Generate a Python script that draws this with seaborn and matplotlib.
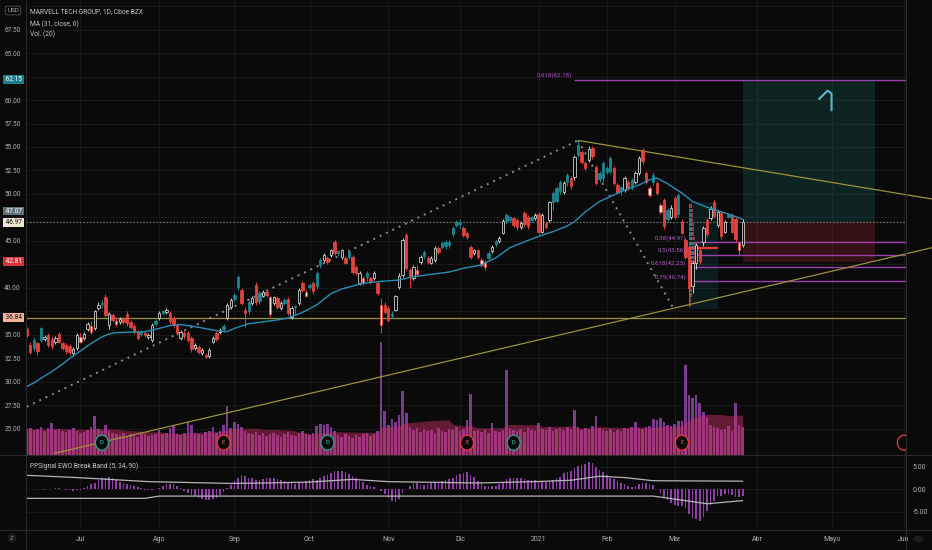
import numpy as np
import pandas as pd
import matplotlib
matplotlib.use("Agg")
import matplotlib.pyplot as plt
from matplotlib.patches import Rectangle, Ellipse, Circle
from matplotlib.lines import Line2D
import seaborn as sns

# ---------------- data ----------------
opens = [35.6,33.9,34.5,34.1,35.7,34.6,35.0,34.6,34.2,35.1,
 34.1,33.9,33.8,33.1,33.6,34.3,34.7,35.6,35.3,35.7,
 37.9,38.4,39.0,36.1,37.1,36.2,36.4,36.7,37.2,36.4,
 36.0,35.3,35.3,35.2,34.8,34.5,36.5,36.8,37.5,37.4,
 37.3,36.8,36.1,34.7,35.2,35.2,34.7,33.6,33.7,33.1,
 32.9,32.8,34.3,35.2,35.3,36.0,36.8,38.0,39.3,41.2,
 39.8,37.7,38.5,38.4,40.3,39.5,39.2,39.6,37.2,38.4,
 38.9,37.9,38.7,38.8,36.9,38.0,38.4,40.5,39.2,40.3,
 40.5,41.6,43.0,43.0,43.2,43.5,44.9,43.9,43.3,43.2,
 43.8,43.3,42.2,40.5,40.5,41.6,41.1,41.1,40.5,36.1,
 38.2,37.9,37.25,37.7,40.1,41.4,45.6,41.9,41.1,41.5,
 42.8,43.8,43.2,42.7,43.0,44.3,44.8,44.9,44.9,46.4,
 47.0,47.0,46.4,45.9,44.4,43.7,44.0,42.4,42.2,43.7,
 43.9,44.95,45.0,45.9,47.8,47.5,47.4,47.2,46.5,48.0,
 47.6,47.5,47.4,47.9,46.0,46.9,47.2,50.1,50.6,51.3,
 50.2,52.0,51.7,51.8,55.2,54.5,53.3,53.6,54.9,52.9,
 52.2,53.3,52.8,53.8,52.8,51.0,50.7,50.4,51.3,51.5,
 51.3,52.2,54.7,52.2,49.9,52.0,51.2,48.1,49.4,48.3,
 47.5,49.6,49.9,47.0,45.1,44.4,40.2,42.7,44.0,44.9,
 47.2,47.4,49.1,46.7,48.0,46.0,47.85,47.8,47.3,44.0,
 44.6]
highs = [35.9,34.2,34.8,34.3,35.9,35.0,35.2,34.9,34.9,35.3,
 34.3,34.1,34.0,33.7,35.2,35.2,35.3,36.4,36.5,37.7,
 38.5,38.7,39.4,37.4,37.3,36.8,36.9,36.9,37.5,36.6,
 36.2,35.5,35.5,35.4,35.2,36.3,36.7,37.5,37.7,37.9,
 37.5,37.0,36.3,35.5,35.4,35.4,34.9,34.1,33.9,33.6,
 33.1,33.6,34.9,35.4,35.7,36.2,38.4,38.9,39.5,41.4,
 40.0,38.0,38.8,39.1,40.6,39.7,39.8,39.8,39.2,39.2,
 39.1,38.6,38.9,39.0,38.1,38.2,40.0,40.7,39.8,40.5,
 40.7,41.8,43.2,43.7,43.4,44.2,45.1,44.0,44.2,43.4,
 44.0,43.5,42.4,41.8,41.3,41.8,41.3,41.8,40.7,38.9,
 38.5,38.1,37.5,39.3,41.6,45.3,45.9,42.1,42.4,42.4,
 43.5,44.0,43.4,43.4,44.5,44.5,45.0,45.1,45.1,46.6,
 47.2,47.3,46.6,46.1,44.6,44.2,44.2,43.2,43.0,43.9,
 44.6,45.1,45.5,47.3,48.0,47.7,47.6,47.4,47.1,48.2,
 47.8,47.7,48.0,48.1,48.0,47.1,49.3,50.3,50.8,51.5,
 51.4,52.2,51.9,54.1,55.7,54.7,53.5,55.1,55.1,53.1,
 52.4,53.5,53.0,54.0,53.0,51.2,50.9,51.9,51.5,51.7,
 52.4,54.0,54.9,52.4,50.8,52.3,51.4,49.0,49.6,48.5,
 48.8,49.8,50.1,47.3,45.3,44.6,42.9,44.8,44.4,46.6,
 47.4,48.7,49.4,48.3,48.2,47.2,48.0,48.0,47.5,45.0,
 47.3]
lows = [34.8,33.0,33.3,32.9,34.2,34.4,33.7,33.5,34.0,34.1,
 33.4,33.0,32.9,32.8,33.4,34.1,34.5,35.4,35.1,35.5,
 37.7,37.9,36.9,35.6,36.4,36.0,36.2,36.2,36.0,35.6,
 35.1,34.5,34.9,34.8,34.6,34.3,36.0,36.6,37.1,37.2,
 36.2,35.9,35.0,34.5,34.6,34.3,33.2,33.4,33.0,32.9,
 32.5,32.6,34.1,34.4,35.1,35.3,36.6,37.8,38.5,39.8,
 38.2,35.8,37.2,38.2,38.2,38.3,39.0,39.0,36.9,38.2,
 37.8,37.7,38.2,37.1,36.7,37.2,38.2,39.6,39.0,39.9,
 39.4,39.9,42.1,42.8,42.5,43.3,43.5,43.4,43.1,42.5,
 43.1,41.5,41.4,40.3,40.3,40.7,40.4,40.9,39.3,35.2,
 37.2,36.4,36.8,37.5,39.9,41.2,41.9,40.0,40.9,41.3,
 42.6,43.1,42.6,42.5,42.8,43.6,44.2,44.1,44.3,45.4,
 46.5,46.3,45.4,45.2,43.1,43.5,43.1,42.2,41.9,43.0,
 43.7,44.4,44.8,45.7,46.8,47.0,46.5,46.2,46.3,46.5,
 46.3,47.0,47.2,45.7,45.8,46.3,47.0,48.3,49.0,50.0,
 50.0,50.8,50.5,51.5,53.9,53.2,52.6,53.4,53.7,51.0,
 51.3,51.3,52.1,52.1,51.0,50.0,49.9,50.2,50.4,50.4,
 51.1,52.0,53.2,51.1,49.7,51.0,49.9,47.9,46.3,47.0,
 47.3,47.3,47.6,45.7,43.1,38.0,39.5,42.0,42.6,44.5,
 45.4,47.2,47.4,46.5,45.2,45.8,47.4,45.8,44.9,43.5,
 44.4]
closes = [35.0,33.2,33.6,33.3,34.5,34.8,33.9,33.8,34.7,34.3,
 33.6,33.3,33.2,33.5,35.0,34.8,35.1,36.2,36.0,37.5,
 38.2,38.25,37.1,37.2,36.6,36.5,36.7,36.4,36.3,35.8,
 35.3,34.7,35.1,34.95,35.0,36.1,36.2,37.3,37.35,37.7,
 36.5,36.1,35.2,35.3,34.9,34.5,33.5,33.9,33.2,33.4,
 32.7,33.4,34.7,34.6,35.5,35.6,38.2,38.7,38.8,40.1,
 38.4,37.3,37.5,38.9,38.5,38.6,39.6,39.3,39.0,39.0,
 38.0,38.4,38.45,37.3,37.9,37.95,39.8,39.75,39.6,40.1,
 39.7,40.2,42.4,43.5,42.8,44.0,43.7,43.75,44.0,42.7,
 43.3,41.7,41.6,41.6,41.1,41.2,40.6,41.6,39.5,38.2,
 37.4,36.6,37.0,39.1,41.3,45.1,42.1,41.2,42.2,41.9,
 43.3,43.35,42.8,43.2,44.3,43.8,44.4,44.45,44.6,45.7,
 46.75,46.8,45.6,45.4,43.3,44.0,43.3,43.0,42.8,43.2,
 44.4,44.65,45.3,47.1,47.1,47.25,46.7,46.5,46.9,46.8,
 46.6,47.2,47.8,46.0,47.8,46.5,49.1,49.2,49.3,50.3,
 51.2,51.3,50.8,53.9,54.1,53.4,52.8,54.8,54.0,51.2,
 51.6,51.7,52.3,52.4,51.2,50.2,50.3,51.7,50.6,50.7,
 52.2,53.8,53.5,51.3,50.6,51.3,50.1,48.8,46.6,47.3,
 48.5,47.6,47.9,45.9,43.3,40.0,42.7,44.6,42.9,46.4,
 45.7,48.4,47.7,48.1,45.5,47.0,47.6,46.0,45.2,44.8,
 47.07]
volume = [26,27,25,26,28,24,27,32,25,26,
 24,23,25,27,24,22,23,25,28,39,
 26,24,30,24,22,21,20,22,19,21,
 20,18,22,21,19,20,21,25,21,22,
 27,29,21,20,22,33,30,22,21,20,
 23,24,28,22,24,30,49,27,33,31,
 28,24,22,21,23,20,22,19,21,22,
 20,18,21,23,20,19,22,24,21,20,
 22,29,31,30,31,28,24,20,18,21,
 19,17,20,18,21,22,19,21,24,113,
 44,30,36,33,40,64,42,28,25,27,
 23,26,24,25,22,27,24,23,26,25,
 28,24,26,35,61,24,25,23,26,22,
 32,24,23,25,85,27,25,24,26,23,
 27,25,24,32,26,25,28,24,26,27,
 25,28,26,45,28,25,27,26,29,39,
 27,25,24,26,23,25,24,27,26,28,
 33,27,26,28,29,36,35,37,33,30,
 29,31,34,34,90,60,57,60,52,43,
 38,30,28,27,25,26,29,24,52,30,
 28]

# MA(31) line (bar index, price)
ma_idx = [0,2,4,7,10,12,15,18,21,23,25,29,33,37,40,43,46,51,54,56,58,62,66,70,73,
          77,81,85,88,90,94,99,104,108,113,118,122,127,131,135,139,143,147,151,153,
          156,160,164,167,171,174,176,179,183,186,190,194,198,200]
ma_val = [29.5,29.9,30.4,31.1,31.9,32.5,33.3,34.1,34.8,35.1,35.25,35.3,35.35,35.7,36.0,
          36.1,35.95,35.6,35.4,35.35,35.7,36.2,36.4,36.6,36.8,37.4,38.2,39.4,39.9,40.1,
          40.5,40.7,40.85,41.2,41.45,41.7,42.1,42.45,43.2,44.3,44.9,45.5,46.0,46.6,47.05,
          48.1,49.2,49.9,50.4,50.95,51.5,51.7,51.1,50.1,49.2,48.6,48.1,47.6,47.3]

# EWO break bands
band_up_idx = [0,14,34,57,67,79,91,101,126,142,152,160,167,175,200]
band_up_val = [3.1,2.6,1.7,1.3,1.4,1.6,2.2,1.7,1.4,1.7,2.0,2.9,2.6,1.9,1.8]
band_lo_idx = [0,33,37,175,184,190,200]
band_lo_val = [-2.0,-2.0,-1.5,-1.5,-2.5,-3.2,-2.5]

first_day = "2020-06-10"
holidays = ["2020-07-03","2020-09-07","2020-11-26","2020-12-25","2021-01-01",
            "2021-01-18","2021-02-15","2021-04-02","2021-05-31"]
month_labels = ["Jul","Ago","Sep","Oct","Nov","Dic","2021","Feb","Mar","Abr","Mayo","Jun"]

dividend_dates = ["2020-07-10","2020-10-08","2020-12-22"]
earnings_dates = ["2020-08-27","2020-12-03","2021-03-03","2021-06-01"]

# drawings
hline_support = 36.84
hline_dotted = 46.97
last_price = 47.07
pos_entry, pos_target, pos_stop = 46.97, 62.15, 42.81
fib_top = (0.618, 62.18)
fib_levels = [(0.38, 44.91), (0.5, 43.56), (0.618, 42.23), (0.75, 40.74)]
trend_up_x, trend_up_y = [154, 253], [55.7, 49.46]          # descending resistance
trend_lo_x, trend_lo_y = [7.7, 253], [22.4, 44.3]           # rising support
dot1_x, dot1_y = [0, 154], [27.37, 55.7]
dot2_x, dot2_y = [154, 180.4], [55.7, 38.0]
profile_levels = [38.25,38.75,39.25,39.75,40.25,40.75,41.25,41.75,42.25,42.75,43.25,
                  43.75,44.25,44.75,45.25,45.75,46.25,46.75,47.25,47.75,48.25,48.75]
profile_up = [1.2,1.5,1.8,1.8,2.1,2.4,2.4,2.7,3.6,3.6,4.2,5.4,6.0,4.2,3.6,3.3,3.0,3.0,2.7,2.4,2.4,1.8]
profile_dn = [0.8,1.0,1.2,1.2,1.4,1.6,1.6,1.8,2.4,2.4,2.8,3.6,4.0,2.8,2.4,2.2,2.0,2.0,1.8,1.6,1.6,1.2]
poc_price = 44.26
brush_x = [221.3, 223.7, 224.8, 224.8]
brush_y = [60.1, 61.0, 60.7, 58.9]

# ---------------- styling ----------------
BG = "#0a0a0a"
GRID = "#1b1b1b"
TXT = "#aeb1b8"
SEP = "#2a2a2a"
OLIVE = "#9a9238"
FIB = "#9d3fae"
FIB_T = "#b35cc6"
MA_C = "#2a8db5"

sns.set_theme(style="dark", rc={"axes.facecolor": BG, "figure.facecolor": BG,
                                "patch.edgecolor": "none"})
plt.rcParams["font.family"] = ["Roboto", "DejaVu Sans"]

W, H = 932, 550
fig = plt.figure(figsize=(W / 100, H / 100), dpi=100)
fig.patch.set_facecolor(BG)


def rect(x0, y0, x1, y1):
    return [x0 / W, 1 - y1 / H, (x1 - x0) / W, (y1 - y0) / H]


ax_vol = fig.add_axes(rect(26, 0, 906, 455))
ax = fig.add_axes(rect(26, 0, 906, 455))
ax.set_facecolor("none")
ax_osc = fig.add_axes(rect(26, 455, 906, 530))

# dates / bar index
days = pd.bdate_range(first_day, "2021-06-30")
days = days[~days.isin(pd.to_datetime(holidays))]
n = len(closes)
x = np.arange(n)
per = pd.Series(days.to_period("M"))
month_pos = np.flatnonzero(per.ne(per.shift()).values)[1:1 + len(month_labels)]


def bar_of(d):
    return int(days.get_loc(pd.Timestamp(d)))


XL = (-0.2, 245.6)
PY = (22.23, 70.64)
VTOP = 455.0

# ---------------- volume pane (behind) ----------------
ax_vol.set_xlim(*XL)
ax_vol.set_ylim(0, VTOP)
lv = np.arange(25, 70.01, 2.5)
ax_vol.set_yticks((lv - PY[0]) / (PY[1] - PY[0]) * VTOP)
ax_vol.set_xticks(month_pos)
ax_vol.grid(True, color=GRID, linewidth=0.6)
ax_vol.tick_params(length=0, labelleft=False, labelbottom=False)
vol = pd.Series(volume, dtype=float)
ax_vol.bar(x, vol, width=0.72, color="#7c3b8e", linewidth=0, zorder=2)
vma = vol.rolling(20, min_periods=1).mean()
ax_vol.fill_between(x, 0, vma, color="#d0306a", alpha=0.45, linewidth=0, zorder=3)

# ---------------- main price pane ----------------
ax.set_xlim(*XL)
ax.set_ylim(*PY)

# long position tool
ax.add_patch(Rectangle((200, pos_entry), 36.9, pos_target - pos_entry,
                       facecolor="#26a69a", alpha=0.17, linewidth=0, zorder=1))
ax.add_patch(Rectangle((200, pos_stop), 36.9, pos_entry - pos_stop,
                       facecolor="#f23645", alpha=0.18, linewidth=0, zorder=1))

# horizontal lines
ax.axhline(hline_support, color=OLIVE, lw=0.9, zorder=2)
ax.axhline(hline_dotted, color="#7a7a7a", lw=0.8, ls=(0, (1.5, 1.5)), zorder=2)

# fib levels
ax.hlines(fib_top[1], 152.8, XL[1], color=FIB, lw=1.0, zorder=2)
ax.text(152.2, fib_top[1] + 0.15, f"{fib_top[0]}({fib_top[1]:.2f})", color=FIB_T,
        fontsize=4.4, ha="right", va="bottom", zorder=9)
for r, p in fib_levels:
    ax.hlines(p, 186.5, XL[1], color=FIB, lw=1.0, zorder=2)
    ax.text(184.2, p + 0.12, f"{r}({p:.2f})", color=FIB_T, fontsize=4.4,
            ha="right", va="bottom", zorder=9)

# volume profile
ax.add_patch(Rectangle((184.9, 37.8), 193.0 - 184.9, 49.2 - 37.8,
                       facecolor="#1e8fa0", alpha=0.13, linewidth=0, zorder=1))
pu = np.array(profile_up) / 3.58
pdn = np.array(profile_dn) / 3.58
ax.barh(profile_levels, pu, left=184.9, height=0.38, color="#2f8fb0", alpha=0.85,
        linewidth=0, edgecolor="none", zorder=2)
ax.barh(profile_levels, pdn, left=184.9 + pu, height=0.38, color="#b7413f", alpha=0.85,
        linewidth=0, edgecolor="none", zorder=2)
ax.hlines(poc_price, 185.5, 193.0, color="#e53935", lw=1.6, zorder=3)

# trend lines and dotted legs
ax.plot(trend_up_x, trend_up_y, color=OLIVE, lw=0.9, zorder=3, clip_on=False)
ax.plot(trend_lo_x, trend_lo_y, color=OLIVE, lw=0.9, zorder=3, clip_on=False)
ax.plot(dot1_x, dot1_y, color="#8c8c8c", lw=1.4, ls=(0, (1, 2.6)), zorder=3)
ax.plot(dot2_x, dot2_y, color="#8c8c8c", lw=1.4, ls=(0, (1, 2.6)), zorder=3)

# candles
o = np.array(opens); h = np.array(highs); l = np.array(lows); c = np.array(closes)
prev = np.r_[o[0], c[:-1]]
up = c >= o
hc = c >= prev
face = np.where(up & hc, BG, np.where(up, "#f3e3d6", np.where(hc, "#1c8391", "#e0433c")))
edge = np.where(up & hc, "#cfcfcf", np.where(up, "#e0483f", np.where(hc, "#1c8391", "#e0433c")))
ax.vlines(x, l, h, colors=edge, lw=0.7, zorder=6)
ax.bar(x, np.maximum(np.abs(c - o), 0.08), bottom=np.minimum(o, c), width=0.66,
       color=face, edgecolor=edge, linewidth=0.6, zorder=7)

# MA line
sns.lineplot(x=ma_idx, y=ma_val, ax=ax, color=MA_C, lw=1.0, zorder=8)

# brush drawing
ax.plot(brush_x, brush_y, color="#5ab8c8", lw=1.5, solid_capstyle="round", zorder=9)

# event markers
ev_y = 23.54
for d in dividend_dates:
    i = bar_of(d)
    ax.add_patch(Ellipse((i, ev_y), 13 / 3.58, 15 / 9.4, facecolor=BG,
                         edgecolor="#26a69a", lw=0.9, zorder=10))
    ax.text(i, ev_y, "D", color="#4fc3c8", fontsize=4.2, ha="center", va="center", zorder=11)
for d in earnings_dates:
    i = bar_of(d)
    ax.add_patch(Ellipse((i, ev_y), 13 / 3.58, 15 / 9.4, facecolor=BG,
                         edgecolor="#f23645", lw=0.9, zorder=10))
    if i < XL[1] - 2:
        ax.text(i, ev_y, "E", color="#f05a64", fontsize=4.2, ha="center", va="center", zorder=11)

# price scale: levels hidden behind coloured labels in the reference are left blank
hidden_levels = {37.5, 42.5, 47.5, 62.5, 70.0}
ax.set_yticks(lv)
ax.set_yticklabels(["" if v in hidden_levels else f"{v:.2f}" for v in lv])
ax.tick_params(axis="y", labelsize=4.7, colors=TXT, length=0, pad=3.6)
ax.set_xticks(month_pos)
ax.tick_params(axis="x", length=0, labelbottom=False)
ax.grid(False)
ax.set_xlabel(""); ax.set_ylabel("")
for a in (ax, ax_vol, ax_osc):
    for s in a.spines.values():
        s.set_visible(False)

# left scale coloured labels
label_rows = [("62.15", pos_target, "#1e7f8f", "white"),
              (f"{last_price:.2f}", 48.19, "#5e7378", "white"),
              ("46.97", hline_dotted, "#efe6d1", "#111111"),
              ("42.81", pos_stop, "#d6343c", "white"),
              ("36.84", hline_support, "#f0b39c", "#111111")]
for txt, yv, fc, tc in label_rows:
    ax.annotate(f" {txt} ", xy=(13.5 / W, yv), xycoords=("figure fraction", "data"),
                ha="center", va="center", fontsize=4.7, color=tc, zorder=12,
                annotation_clip=False,
                bbox=dict(boxstyle="square,pad=0.15", fc=fc, ec="none"))

# ---------------- oscillator pane ----------------
ax_osc.set_facecolor(BG)
cs = pd.Series(closes, dtype=float)
ewo = cs.rolling(5, min_periods=1).mean() - cs.rolling(34, min_periods=1).mean()
ax_osc.bar(x, ewo, width=0.45, color="#8f3fa8", linewidth=0, zorder=2)
sns.lineplot(x=band_up_idx, y=band_up_val, ax=ax_osc, color="#b5b5b5", lw=0.9, zorder=3)
sns.lineplot(x=band_lo_idx, y=band_lo_val, ax=ax_osc, color="#b5b5b5", lw=0.9, zorder=3)
ax_osc.set_xlim(*XL)
ax_osc.set_ylim(-9.0, 7.59)
ax_osc.set_yticks([-5, 0, 5])
ax_osc.set_yticklabels(["-5.00", "0.00", "5.00"])
ax_osc.yaxis.tick_right()
ax_osc.tick_params(axis="y", labelsize=5, colors=TXT, length=0, pad=5)
ax_osc.set_xticks(month_pos)
ax_osc.set_xticklabels(month_labels)
ax_osc.tick_params(axis="x", labelsize=5, colors=TXT, length=0, pad=4.5)
ax_osc.grid(True, color=GRID, linewidth=0.6)
ax_osc.set_xlabel(""); ax_osc.set_ylabel("")

# ---------------- frame, texts ----------------
for yy in (455, 530):
    fig.add_artist(Line2D([0, 1], [1 - yy / H, 1 - yy / H], transform=fig.transFigure,
                          color=SEP, lw=0.8))
for xx in (26, 906):
    fig.add_artist(Line2D([xx / W, xx / W], [0, 1], transform=fig.transFigure,
                          color=SEP, lw=0.8))

hdr = dict(fontsize=4.8, color="#c4c7ce", va="center", ha="left")
fig.text(30 / W, 1 - 11.5 / H, "MARVELL TECH GROUP, 1D, Cboe BZX", **hdr)
fig.text(30 / W, 1 - 24 / H, "MA (31, close, 0)", **hdr)
fig.text(30 / W, 1 - 34.5 / H, "Vol. (20)", **hdr)
fig.text(30 / W, 1 - 466.5 / H, "PPSignal EWO Break Band (5, 34, 90)", **hdr)
fig.text(13 / W, 1 - 10.5 / H, "USD", fontsize=4.5, color=TXT, ha="center", va="center",
         zorder=20, bbox=dict(boxstyle="round,pad=0.3", fc=BG, ec="#555555", lw=0.6))
fig.text(12 / W, 1 - 538 / H, "Z", fontsize=4.5, color="#8a8a8a", ha="center", va="center",
         bbox=dict(boxstyle="circle,pad=0.35", fc="#1c1c1c", ec="none"))
fig.add_artist(Circle((918.5 / W, 1 - 539 / H), 5.5 / W, transform=fig.transFigure,
                      facecolor="#1c1c1c", edgecolor="none"))

fig.savefig("out.png", dpi=100, facecolor=BG)
